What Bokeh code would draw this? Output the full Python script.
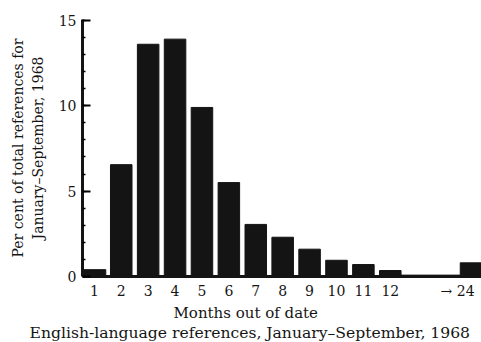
from bokeh.plotting import figure
from bokeh.models import FixedTicker, Range1d, Title, ColumnDataSource
from bokeh.embed import file_html
from bokeh.resources import INLINE

# Data (percent of total references by months out of date)
month_labels = ["1", "2", "3", "4", "5", "6", "7", "8", "9", "10", "11", "12", "13–23", "→ 24"]
month_pos = [1, 2, 3, 4, 5, 6, 7, 8, 9, 10, 11, 12, 13.5, 15]
percent = [0.4, 6.55, 13.6, 13.9, 9.9, 5.5, 3.05, 2.3, 1.6, 0.95, 0.7, 0.35, 0.08, 0.8]
bar_width = [0.85, 0.8, 0.8, 0.8, 0.8, 0.8, 0.8, 0.8, 0.8, 0.8, 0.8, 0.8, 2.2, 0.8]
y_ticks = [0, 5, 10, 15]
x_title = "Months out of date"
caption = "English-language references, January–September, 1968"

FONT = "DejaVu Serif"
TXT = "#151515"

src = ColumnDataSource(dict(x=month_pos, top=percent, w=bar_width))

p = figure(width=481, height=342, output_backend="svg", toolbar_location=None,
           x_range=Range1d(0.56, 15.39), y_range=Range1d(0, 15.05),
           min_border_left=82, min_border_right=0, min_border_top=19, min_border_bottom=66)
p.outline_line_color = None
p.grid.grid_line_color = None
p.background_fill_color = "white"

p.vbar(x="x", top="top", width="w", bottom=0, source=src,
       fill_color="#141414", line_color="#141414")

# x axis
xa = p.xaxis[0]
tick_pos = list(range(1, 13)) + [14.5]
xa.ticker = FixedTicker(ticks=tick_pos)
overrides = {i: month_labels[i - 1] for i in range(1, 13)}
overrides[14.5] = month_labels[-1]
xa.major_label_overrides = overrides
xa.major_tick_line_color = None
xa.minor_tick_line_color = None
xa.axis_line_width = 3
xa.axis_line_color = "#141414"
xa.major_label_text_font = FONT
xa.major_label_text_font_size = "14px"
xa.major_label_text_color = TXT
xa.major_label_standoff = 0

# y axis
ya = p.yaxis[0]
ya.ticker = FixedTicker(ticks=y_ticks, minor_ticks=list(range(0, 16)))
ya.axis_line_width = 3
ya.axis_line_color = "#141414"
ya.major_tick_in = 8
ya.major_tick_out = 0
ya.major_tick_line_width = 2
ya.minor_tick_in = 3
ya.minor_tick_out = 0
ya.minor_tick_line_width = 1.5
ya.major_label_text_font = FONT
ya.major_label_text_font_size = "14px"
ya.major_label_text_color = TXT
ya.major_label_standoff = 6
ya.axis_label = "Per cent of total references for\nJanuary–September, 1968"
ya.axis_label_text_font = FONT
ya.axis_label_text_font_style = "normal"
ya.axis_label_text_font_size = "14px"
ya.axis_label_text_color = TXT
ya.axis_label_standoff = 10

p.add_layout(Title(text=x_title, align="left", offset=91, standoff=0,
                   text_font=FONT, text_font_size="15px", text_font_style="normal",
                   text_color=TXT), "below")
p.add_layout(Title(text=caption, align="left", offset=-53, standoff=0,
                   text_font=FONT, text_font_size="15.6px", text_font_style="normal",
                   text_color=TXT), "below")

open("out.html", "w").write(file_html(p, INLINE))
